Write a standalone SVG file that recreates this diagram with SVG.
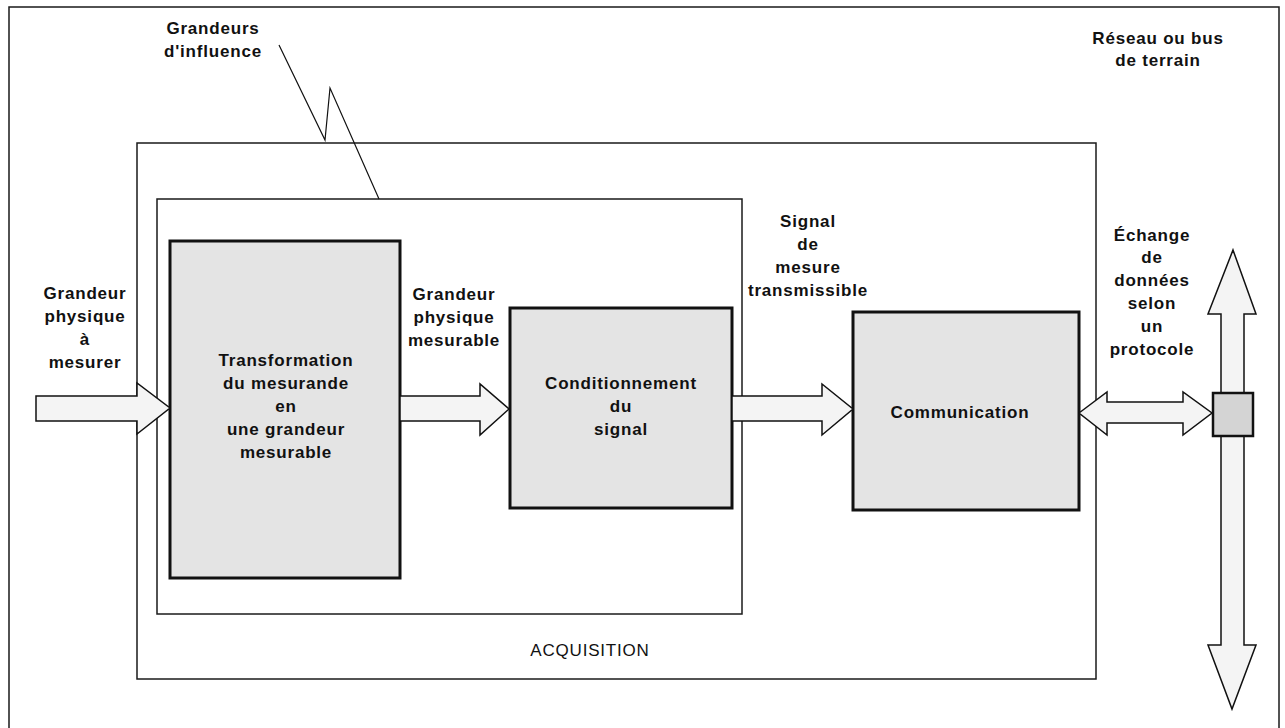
<svg xmlns="http://www.w3.org/2000/svg" width="1285" height="728" viewBox="0 0 1285 728">
<style>
.frame{fill:none;stroke:#1a1a1a;stroke-width:1.5}
.box{fill:#e4e4e4;stroke:#111;stroke-width:3}
.arrow{fill:#f4f4f4;stroke:#111;stroke-width:1.5;stroke-linejoin:miter}
.lbl{font-family:"Liberation Sans",Arial,sans-serif;font-weight:bold;font-size:17px;letter-spacing:0.8px;fill:#111;text-anchor:middle}
.reg{font-family:"Liberation Sans",Arial,sans-serif;font-size:17px;letter-spacing:0.8px;fill:#111;text-anchor:middle}
</style>
<rect width="1285" height="728" fill="#fff"/>
<g id="frame"><rect class="frame" x="9" y="7" width="1270" height="730"/></g>
<g id="acquisition"><rect class="frame" x="137" y="143" width="959" height="536"/>
<text class="reg" x="590" y="656">ACQUISITION</text></g>
<g id="capteur"><rect class="frame" x="157" y="199" width="585" height="415"/></g>
<g id="transformation"><rect class="box" x="170" y="241" width="230" height="337"/>
<text class="lbl" x="286" y="366">Transformation</text>
<text class="lbl" x="286" y="389">du mesurande</text>
<text class="lbl" x="286" y="412">en</text>
<text class="lbl" x="286" y="435">une grandeur</text>
<text class="lbl" x="286" y="458">mesurable</text></g>
<g id="conditionnement"><rect class="box" x="510" y="308" width="222" height="200"/>
<text class="lbl" x="621" y="389">Conditionnement</text>
<text class="lbl" x="621" y="412">du</text>
<text class="lbl" x="621" y="435">signal</text></g>
<g id="communication"><rect class="box" x="853" y="312" width="226" height="198"/>
<text class="lbl" x="960" y="418">Communication</text></g>
<g id="labels">
<text class="lbl" x="213" y="34">Grandeurs</text>
<text class="lbl" x="213" y="57">d'influence</text>
<text class="lbl" x="85" y="299">Grandeur</text>
<text class="lbl" x="85" y="322">physique</text>
<text class="lbl" x="85" y="345">à</text>
<text class="lbl" x="85" y="368">mesurer</text>
<text class="lbl" x="454" y="300">Grandeur</text>
<text class="lbl" x="454" y="323">physique</text>
<text class="lbl" x="454" y="346">mesurable</text>
<text class="lbl" x="808" y="227">Signal</text>
<text class="lbl" x="808" y="250">de</text>
<text class="lbl" x="808" y="273">mesure</text>
<text class="lbl" x="808" y="296">transmissible</text>
<text class="lbl" x="1152" y="241">Échange</text>
<text class="lbl" x="1152" y="263">de</text>
<text class="lbl" x="1152" y="286">données</text>
<text class="lbl" x="1152" y="309">selon</text>
<text class="lbl" x="1152" y="332">un</text>
<text class="lbl" x="1152" y="355">protocole</text>
<text class="lbl" x="1158" y="44">Réseau ou bus</text>
<text class="lbl" x="1158" y="66">de terrain</text>
</g>
<g id="connectors">
<polyline points="279,45 325,140 330,88 379,199" fill="none" stroke="#111" stroke-width="1.2"/>
<polygon class="arrow" points="36,396 137,396 137,383 170,408 137,434 137,421 36,421"/>
<polygon class="arrow" points="400,396 480,396 480,384 509,409 480,435 480,421 400,421"/>
<polygon class="arrow" points="732,396 822,396 822,384 853,409 822,435 822,421 732,421"/>
<polygon class="arrow" points="1079,413 1107,392 1107,402 1183,402 1183,392 1212,413 1183,435 1183,423 1107,423 1107,435"/>
<polygon class="arrow" points="1233,250 1256,314 1244,314 1244,645 1256,645 1232,709 1208,645 1221,645 1221,314 1208,314"/>
</g>
<g id="bus-node"><rect x="1213" y="393" width="40" height="43" fill="#d4d4d4" stroke="#111" stroke-width="2.5"/></g>
</svg>
